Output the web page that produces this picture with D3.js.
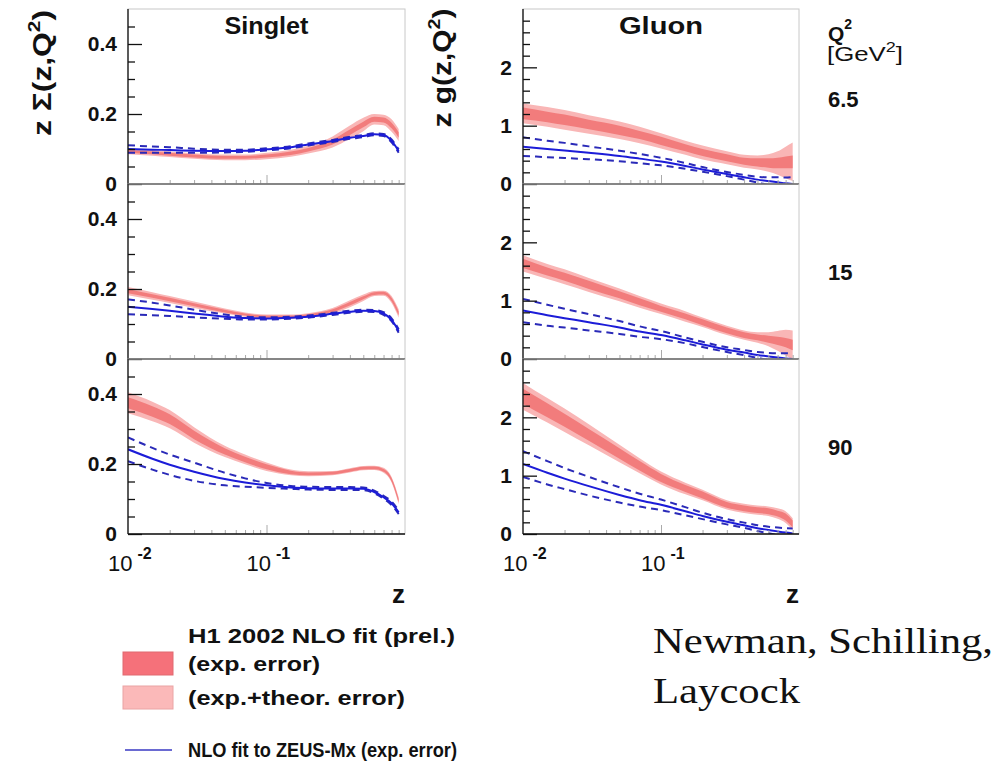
<!DOCTYPE html>
<html>
<head>
<meta charset="utf-8">
<script src="https://cdn.jsdelivr.net/npm/d3@7"></script>
<style>
  body { margin: 0; background: #fff; }
  svg { display: block; }
  text { font-family: "Liberation Sans", Arial, sans-serif; fill: #111; }
</style>
</head>
<body>
<div id="chart"></div>
<script>
var zGrid = [0.01, 0.015, 0.02, 0.03, 0.05, 0.07, 0.1, 0.15, 0.2, 0.3, 0.4, 0.5, 0.6, 0.7, 0.8, 0.9];
var q2Labels = ["6.5", "15", "90"];

// singlet, H1 2002 fit (one row per Q2)
var singletH1 = [
  [0.093, 0.089, 0.085, 0.080, 0.076, 0.076, 0.080, 0.088, 0.098, 0.120, 0.148, 0.170, 0.185, 0.183, 0.167, 0.140],
  [0.194, 0.180, 0.170, 0.155, 0.137, 0.127, 0.121, 0.121, 0.125, 0.138, 0.158, 0.175, 0.187, 0.188, 0.170, 0.130],
  [0.375, 0.350, 0.328, 0.283, 0.236, 0.213, 0.192, 0.176, 0.172, 0.174, 0.182, 0.188, 0.189, 0.182, 0.155, 0.095]
];
var singletH1Exp = [
  [0.004, 0.004, 0.004, 0.004, 0.004, 0.004, 0.004, 0.005, 0.005, 0.007, 0.008, 0.008, 0.007, 0.007, 0.008, 0.008],
  [0.006, 0.005, 0.005, 0.004, 0.004, 0.003, 0.003, 0.003, 0.003, 0.004, 0.005, 0.004, 0.004, 0.004, 0.005, 0.006],
  [0.016, 0.015, 0.014, 0.012, 0.009, 0.008, 0.007, 0.005, 0.004, 0.004, 0.004, 0.004, 0.004, 0.004, 0.005, 0.005]
];
var singletH1Tot = [
  [0.008, 0.008, 0.008, 0.008, 0.008, 0.008, 0.009, 0.010, 0.011, 0.016, 0.019, 0.019, 0.015, 0.015, 0.018, 0.017],
  [0.012, 0.011, 0.010, 0.009, 0.007, 0.006, 0.006, 0.006, 0.006, 0.008, 0.010, 0.009, 0.007, 0.007, 0.010, 0.012],
  [0.030, 0.028, 0.026, 0.022, 0.016, 0.014, 0.012, 0.008, 0.007, 0.006, 0.006, 0.006, 0.006, 0.007, 0.008, 0.010]
];
// singlet, NLO fit to ZEUS-Mx
var singletZeus = [
  [0.100, 0.098, 0.097, 0.095, 0.094, 0.095, 0.099, 0.105, 0.113, 0.123, 0.132, 0.137, 0.142, 0.140, 0.123, 0.094],
  [0.149, 0.143, 0.138, 0.130, 0.121, 0.117, 0.116, 0.118, 0.121, 0.129, 0.135, 0.138, 0.137, 0.130, 0.112, 0.080],
  [0.242, 0.215, 0.198, 0.178, 0.157, 0.147, 0.139, 0.133, 0.131, 0.130, 0.130, 0.129, 0.120, 0.105, 0.088, 0.062]
];
var singletZeusErr = [
  [0.011, 0.009, 0.008, 0.006, 0.004, 0.003, 0.003, 0.003, 0.003, 0.003, 0.003, 0.003, 0.003, 0.003, 0.004, 0.005],
  [0.021, 0.018, 0.015, 0.011, 0.006, 0.004, 0.003, 0.003, 0.003, 0.003, 0.003, 0.003, 0.003, 0.004, 0.004, 0.005],
  [0.034, 0.031, 0.029, 0.026, 0.018, 0.012, 0.007, 0.004, 0.004, 0.004, 0.004, 0.004, 0.004, 0.004, 0.005, 0.005]
];

// gluon, H1 2002 fit
var gluonH1 = [
  [1.21, 1.15, 1.10, 1.02, 0.92, 0.84, 0.74, 0.62, 0.54, 0.45, 0.39, 0.37, 0.36, 0.36, 0.37, 0.38],
  [1.64, 1.50, 1.41, 1.27, 1.10, 0.98, 0.86, 0.73, 0.63, 0.49, 0.41, 0.37, 0.34, 0.31, 0.28, 0.24],
  [2.36, 2.12, 1.95, 1.70, 1.38, 1.17, 0.96, 0.78, 0.67, 0.50, 0.44, 0.41, 0.39, 0.35, 0.29, 0.17]
];
var gluonH1Exp = [
  [0.10, 0.09, 0.09, 0.08, 0.08, 0.07, 0.07, 0.06, 0.06, 0.06, 0.06, 0.07, 0.08, 0.09, 0.10, 0.11],
  [0.08, 0.07, 0.07, 0.07, 0.06, 0.06, 0.05, 0.05, 0.05, 0.05, 0.05, 0.05, 0.06, 0.07, 0.08, 0.09],
  [0.13, 0.12, 0.11, 0.10, 0.09, 0.08, 0.07, 0.06, 0.06, 0.05, 0.05, 0.05, 0.05, 0.05, 0.06, 0.06]
];
var gluonH1Tot = [
  [0.17, 0.17, 0.17, 0.16, 0.15, 0.14, 0.13, 0.12, 0.12, 0.11, 0.11, 0.12, 0.15, 0.20, 0.27, 0.33],
  [0.14, 0.13, 0.13, 0.12, 0.11, 0.10, 0.09, 0.09, 0.08, 0.08, 0.08, 0.09, 0.12, 0.17, 0.22, 0.25],
  [0.23, 0.21, 0.20, 0.18, 0.15, 0.13, 0.11, 0.10, 0.09, 0.08, 0.08, 0.08, 0.08, 0.09, 0.10, 0.10]
];
// gluon, NLO fit to ZEUS-Mx
var gluonZeus = [
  [0.64, 0.60, 0.575, 0.535, 0.48, 0.435, 0.385, 0.31, 0.25, 0.17, 0.115, 0.075, 0.05, 0.03, 0.012, 0.0],
  [0.83, 0.75, 0.70, 0.63, 0.54, 0.47, 0.41, 0.32, 0.25, 0.16, 0.11, 0.07, 0.045, 0.025, 0.01, 0.0],
  [1.20, 1.05, 0.95, 0.82, 0.67, 0.58, 0.50, 0.39, 0.31, 0.21, 0.15, 0.10, 0.07, 0.045, 0.025, 0.01]
];
var gluonZeusErr = [
  [0.16, 0.14, 0.13, 0.11, 0.09, 0.08, 0.065, 0.05, 0.04, 0.035, 0.04, 0.05, 0.065, 0.085, 0.10, 0.12],
  [0.20, 0.18, 0.16, 0.14, 0.11, 0.09, 0.07, 0.05, 0.045, 0.04, 0.045, 0.05, 0.06, 0.075, 0.09, 0.10],
  [0.22, 0.20, 0.18, 0.16, 0.13, 0.11, 0.09, 0.07, 0.055, 0.045, 0.045, 0.05, 0.055, 0.065, 0.075, 0.085]
];

var width = 1007, height = 764;
var rowTop = [9, 184, 359], rowH = 175;

var svg = d3.select("#chart").append("svg")
  .attr("width", width)
  .attr("height", height);

var lightPink = "#f9b6b6", darkPink = "#f27c7c", blue = "#1c1cd8";

// the two columns: singlet and gluon
var columns = [
  { title: "Singlet", x0: 128, x1: 405, yMax: 0.5, major: [0, 0.2, 0.4], minorStep: 0.05,
    fmt: function(d) { return d === 0 ? "0" : d3.format(".1f")(d); },
    h1: singletH1, exp: singletH1Exp, tot: singletH1Tot, zeus: singletZeus, zerr: singletZeusErr },
  { title: "Gluon", x0: 523, x1: 799, yMax: 3, major: [0, 1, 2], minorStep: 0.2,
    fmt: d3.format("d"),
    h1: gluonH1, exp: gluonH1Exp, tot: gluonH1Tot, zeus: gluonZeus, zerr: gluonZeusErr }
];

columns.forEach(function(col, ci) {
  var x = d3.scaleLog().domain([0.01, 1]).range([col.x0, col.x1]);

  rowTop.forEach(function(top, ri) {
    var y = d3.scaleLinear().domain([0, col.yMax]).range([top + rowH, top]);
    var g = svg.append("g");
    var clipId = "clip" + ci + ri;

    svg.append("clipPath").attr("id", clipId)
      .append("rect")
      .attr("x", col.x0).attr("y", top)
      .attr("width", col.x1 - col.x0).attr("height", rowH);

    // light frame
    g.append("rect")
      .attr("x", col.x0).attr("y", top)
      .attr("width", col.x1 - col.x0).attr("height", rowH)
      .attr("fill", "none").attr("stroke", "#c8c8c8").attr("stroke-width", 1);

    var plot = g.append("g").attr("clip-path", "url(#" + clipId + ")");

    function band(center, half) {
      return d3.area()
        .x(function(d, i) { return x(zGrid[i]); })
        .y0(function(d, i) { return y(center[ri][i] - half[ri][i]); })
        .y1(function(d, i) { return y(center[ri][i] + half[ri][i]); })
        .curve(d3.curveMonotoneX)(zGrid);
    }
    function curve(center, half, sign) {
      return d3.line()
        .x(function(d, i) { return x(zGrid[i]); })
        .y(function(d, i) { return y(center[ri][i] + sign * (half ? half[ri][i] : 0)); })
        .curve(d3.curveMonotoneX)(zGrid);
    }

    plot.append("path").attr("d", band(col.h1, col.tot)).attr("fill", lightPink);
    plot.append("path").attr("d", band(col.h1, col.exp)).attr("fill", darkPink);

    [1, -1].forEach(function(s) {
      plot.append("path").attr("d", curve(col.zeus, col.zerr, s))
        .attr("fill", "none").attr("stroke", "#2a2ab8")
        .attr("stroke-width", 2).attr("stroke-dasharray", "7,5");
    });
    plot.append("path").attr("d", curve(col.zeus, null, 0))
      .attr("fill", "none").attr("stroke", blue).attr("stroke-width", 2);

    // y axis: long major ticks with labels, short minor ticks
    var minors = d3.range(0, col.yMax + 1e-9, col.minorStep).filter(function(v) {
      return col.major.indexOf(+v.toFixed(3)) < 0 && v > 0 && v < col.yMax - 1e-9;
    });
    var yMinor = g.append("g").attr("transform", "translate(" + col.x0 + ",0)")
      .call(d3.axisLeft(y).tickValues(minors).tickSize(-7).tickFormat(""));
    var yMajor = g.append("g").attr("transform", "translate(" + col.x0 + ",0)")
      .call(d3.axisLeft(y).tickValues(col.major).tickSize(-14).tickPadding(11).tickFormat(col.fmt));
    [yMinor, yMajor].forEach(function(a) {
      a.select(".domain").remove();
      a.selectAll("line").attr("stroke", "#111").attr("stroke-width", 1.3);
    });
    yMajor.selectAll("text")
      .style("font-size", "21px").style("font-weight", "bold").attr("fill", "#111");

    // x axis ticks (pointing up, light)
    var xTicks = [];
    [0.01, 0.1].forEach(function(dec) {
      for (var k = 2; k <= 9; k++) xTicks.push(dec * k);
    });
    var xMinor = g.append("g").attr("transform", "translate(0," + (top + rowH) + ")")
      .call(d3.axisBottom(x).tickValues(xTicks).tickSize(-4).tickFormat(""));
    var xMajor = g.append("g").attr("transform", "translate(0," + (top + rowH) + ")")
      .call(d3.axisBottom(x).tickValues([0.1]).tickSize(-9).tickFormat(""));
    [xMinor, xMajor].forEach(function(a) {
      a.select(".domain").remove();
      a.selectAll("line").attr("stroke", "#aaa").attr("stroke-width", 1);
    });

    // black left axis and zero line
    g.append("line")
      .attr("x1", col.x0).attr("x2", col.x0)
      .attr("y1", top).attr("y2", top + rowH)
      .attr("stroke", "#111").attr("stroke-width", 1.3);
    g.append("line")
      .attr("x1", col.x0).attr("x2", col.x1)
      .attr("y1", y(0)).attr("y2", y(0))
      .attr("stroke", "#111").attr("stroke-width", 1.3);

    // decade labels under the last row
    if (ri === 2) {
      [[0.01, "-2"], [0.1, "-1"]].forEach(function(p) {
        var t = svg.append("text")
          .attr("x", x(p[0]) - 20).attr("y", top + rowH + 37)
          .style("font-size", "22px");
        t.append("tspan").text("10");
        t.append("tspan").attr("dx", 5).attr("dy", -12)
          .style("font-size", "16px").style("font-weight", "bold").text(p[1]);
      });
      svg.append("text")
        .attr("x", col.x1).attr("y", 603)
        .attr("text-anchor", "end")
        .style("font-size", "26px").style("font-weight", "bold")
        .text("z");
    }
  });

  // column title
  svg.append("text")
    .attr("x", (col.x0 + col.x1) / 2).attr("y", 34)
    .attr("text-anchor", "middle")
    .attr("textLength", 84).attr("lengthAdjust", "spacingAndGlyphs")
    .style("font-size", "23px").style("font-weight", "bold")
    .text(col.title);
});

// y axis titles, rotated
function yTitle(xPos, yMid, label, len) {
  var t = svg.append("text")
    .attr("transform", "translate(" + xPos + "," + yMid + ") rotate(-90)")
    .attr("text-anchor", "middle")
    .attr("textLength", len).attr("lengthAdjust", "spacingAndGlyphs")
    .style("font-size", "26px").style("font-weight", "bold");
  t.append("tspan").text(label);
  t.append("tspan").attr("dy", -11).style("font-size", "17px").text("2");
  t.append("tspan").attr("dy", 11).text(")");
}
yTitle(51, 73, "z \u03a3(z,Q", 126);
yTitle(451, 68, "z g(z,Q", 119);

// Q2 header and values
var qh = svg.append("text").attr("x", 828).attr("y", 41)
  .style("font-size", "21px").style("font-weight", "bold");
qh.append("tspan").text("Q");
qh.append("tspan").attr("dy", -12).style("font-size", "14px").text("2");
var gev = svg.append("text").attr("x", 827).attr("y", 61)
  .attr("textLength", 76).attr("lengthAdjust", "spacingAndGlyphs")
  .style("font-size", "20px");
gev.append("tspan").text("[GeV");
gev.append("tspan").attr("dy", -9).style("font-size", "14px").text("2");
gev.append("tspan").attr("dy", 9).text("]");

svg.selectAll("text.q2").data(q2Labels).enter().append("text")
  .attr("class", "q2")
  .attr("x", 828)
  .attr("y", function(d, i) { return [107, 280, 455][i]; })
  .style("font-size", "22px").style("font-weight", "bold")
  .text(function(d) { return d; });

// legend
var legend = svg.append("g");
legend.append("text").attr("x", 188).attr("y", 643)
  .attr("textLength", 267).attr("lengthAdjust", "spacingAndGlyphs")
  .style("font-size", "20px").style("font-weight", "bold")
  .text("H1 2002 NLO fit (prel.)");
legend.append("rect").attr("x", 123).attr("y", 652).attr("width", 50).attr("height", 23)
  .attr("fill", "#f5717a").attr("stroke", "#e06a70");
legend.append("text").attr("x", 188).attr("y", 671)
  .attr("textLength", 132).attr("lengthAdjust", "spacingAndGlyphs")
  .style("font-size", "20px").style("font-weight", "bold")
  .text("(exp. error)");
legend.append("rect").attr("x", 123).attr("y", 686).attr("width", 50).attr("height", 23)
  .attr("fill", "#fbb9b9").attr("stroke", "#eaa4a4");
legend.append("text").attr("x", 188).attr("y", 705)
  .attr("textLength", 217).attr("lengthAdjust", "spacingAndGlyphs")
  .style("font-size", "20px").style("font-weight", "bold")
  .text("(exp.+theor. error)");
legend.append("line").attr("x1", 125).attr("x2", 172).attr("y1", 750).attr("y2", 750)
  .attr("stroke", "#6a6ad2").attr("stroke-width", 2);
legend.append("text").attr("x", 188).attr("y", 757)
  .attr("textLength", 269).attr("lengthAdjust", "spacingAndGlyphs")
  .style("font-size", "21px").style("font-weight", "bold")
  .text("NLO fit to ZEUS-Mx (exp. error)");

// authors
svg.append("text").attr("x", 653).attr("y", 653)
  .attr("textLength", 340).attr("lengthAdjust", "spacingAndGlyphs")
  .style("font-family", "'Liberation Serif', 'Times New Roman', serif").style("font-size", "36px")
  .text("Newman, Schilling,");
svg.append("text").attr("x", 653).attr("y", 703)
  .attr("textLength", 147).attr("lengthAdjust", "spacingAndGlyphs")
  .style("font-family", "'Liberation Serif', 'Times New Roman', serif").style("font-size", "36px")
  .text("Laycock");
</script>
</body>
</html>
